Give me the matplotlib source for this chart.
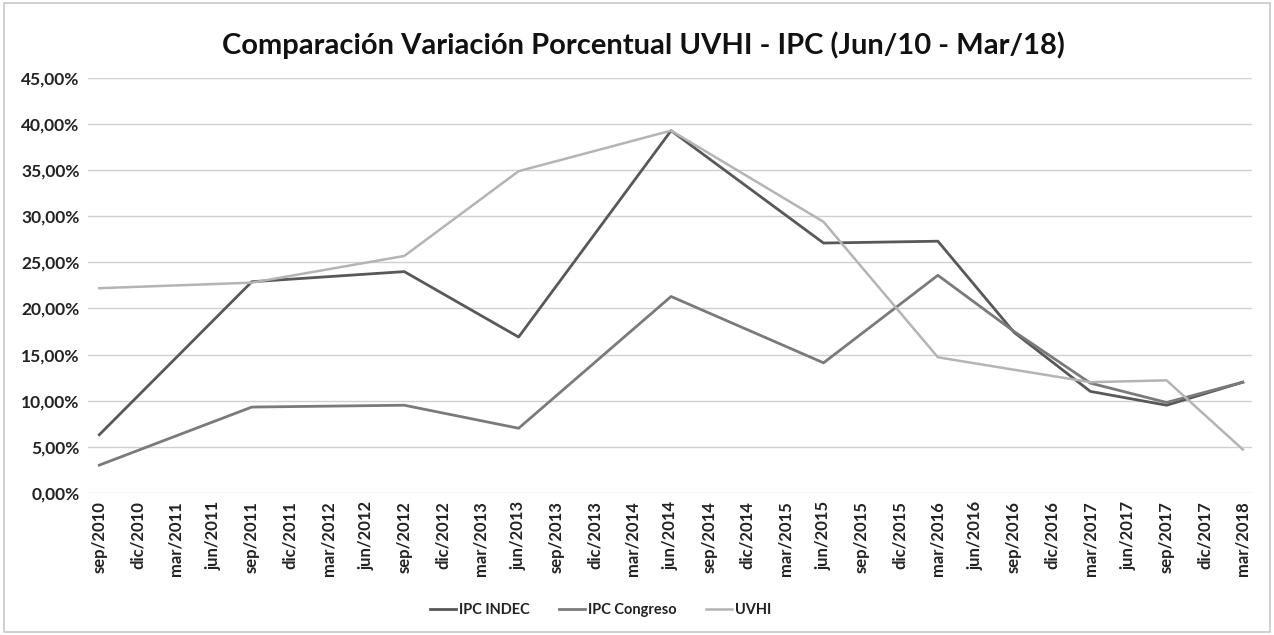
import numpy as np
import matplotlib.pyplot as plt
from matplotlib.ticker import FuncFormatter

plt.rcParams["font.family"] = ["Lato", "DejaVu Sans"]

# quarterly category labels on the x axis
categories = ["sep/2010", "dic/2010", "mar/2011", "jun/2011", "sep/2011", "dic/2011",
              "mar/2012", "jun/2012", "sep/2012", "dic/2012", "mar/2013", "jun/2013",
              "sep/2013", "dic/2013", "mar/2014", "jun/2014", "sep/2014", "dic/2014",
              "mar/2015", "jun/2015", "sep/2015", "dic/2015", "mar/2016", "jun/2016",
              "sep/2016", "dic/2016", "mar/2017", "jun/2017", "sep/2017", "dic/2017",
              "mar/2018"]

# dates with data (lines join only these)
dates = ["sep/2010", "sep/2011", "sep/2012", "jun/2013", "jun/2014", "jun/2015",
         "mar/2016", "sep/2016", "mar/2017", "sep/2017", "mar/2018"]
ipc_indec = [6.3, 22.9, 24.0, 16.9, 39.3, 27.1, 27.3, 17.4, 11.0, 9.5, 12.0]
ipc_congreso = [3.0, 9.3, 9.5, 7.0, 21.3, 14.1, 23.6, 17.5, 11.9, 9.8, 12.0]

uvhi_dates = ["sep/2010", "sep/2011", "sep/2012", "jun/2013", "jun/2014", "jun/2015",
              "mar/2016", "mar/2017", "sep/2017", "mar/2018"]
uvhi = [22.2, 22.8, 25.7, 34.9, 39.3, 29.4, 14.7, 12.0, 12.2, 4.7]

pos = {c: i for i, c in enumerate(categories)}

fig = plt.figure(figsize=(12.74, 6.35), dpi=100)
ax = fig.add_axes([0.069, 0.224, 0.914, 0.653])

ax.plot([pos[d] for d in dates], ipc_indec, color="#585858", lw=2.0, label="IPC INDEC")
ax.plot([pos[d] for d in dates], ipc_congreso, color="#7a7a7a", lw=2.0, label="IPC Congreso")
ax.plot([pos[d] for d in uvhi_dates], uvhi, color="#b4b4b4", lw=1.8, label="UVHI")

ax.set_xlim(-0.3, len(categories) - 0.75)
ax.set_ylim(0, 45)
ax.set_yticks(np.arange(0, 46, 5))
ax.yaxis.set_major_formatter(FuncFormatter(lambda v, p: f"{v:.2f}%".replace(".", ",")))
ax.set_xticks(range(len(categories)))
ax.set_xticklabels(categories, rotation=90)
ax.grid(axis="y", color="#d0d0d0", lw=1.0)
ax.set_axisbelow(True)
for s in ax.spines.values():
    s.set_visible(False)
ax.tick_params(length=0, pad=6)
ax.tick_params(axis="y", labelsize=12.5)
ax.tick_params(axis="x", labelsize=12)
for t in ax.get_yticklabels() + ax.get_xticklabels():
    t.set_fontweight("bold")
    t.set_color("#222222")

fig.suptitle("Comparación Variación Porcentual UVHI - IPC (Jun/10 - Mar/18)",
             x=0.505, y=0.95, fontsize=21, fontweight="bold", color="#111111")

leg = ax.legend(loc="upper center", bbox_to_anchor=(0.44, -0.235), ncol=3, frameon=False,
                fontsize=10.5, handlelength=1.8, columnspacing=2.0, handletextpad=0.2)
for t in leg.get_texts():
    t.set_fontweight("bold")
    t.set_color("#222222")

fig.patches.append(plt.Rectangle((0.003, 0.005), 0.994, 0.99, transform=fig.transFigure,
                                 fill=False, edgecolor="#c8c8c8", lw=1.2))

fig.savefig("out.png", dpi=100)
